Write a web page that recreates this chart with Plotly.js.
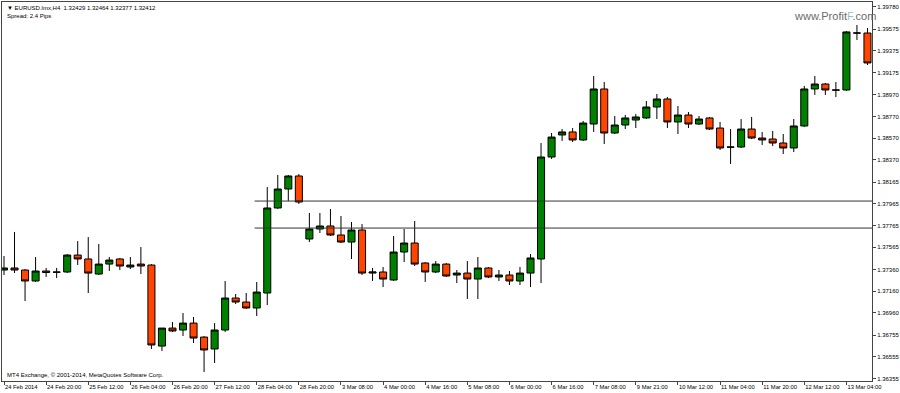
<!DOCTYPE html>
<html>
<head>
<meta charset="utf-8">
<script src="https://cdn.plot.ly/plotly-3.0.1.min.js"></script>
<style>
  html, body { margin: 0; padding: 0; background: #ffffff; }
  #chart { width: 900px; height: 393px; }
</style>
</head>
<body>
<div id="chart"></div>
<script>
// ---- Data (EURUSD H4) ----
const openP = [1.37355, 1.37374, 1.37355, 1.37254, 1.37346, 1.37337, 1.37337, 1.37493, 1.37457, 1.37318,
  1.37410, 1.37457, 1.37383, 1.37410, 1.37401, 1.36654, 1.36820, 1.36802, 1.36866, 1.36737,
  1.36627, 1.36802, 1.37097, 1.37060, 1.37005, 1.37143, 1.37927, 1.38102, 1.38222, 1.37641,
  1.37733, 1.37761, 1.37678, 1.37613, 1.37724, 1.37327, 1.37337, 1.37263, 1.37521, 1.37604,
  1.37420, 1.37337, 1.37410, 1.37309, 1.37327, 1.37272, 1.37374, 1.37291, 1.37309, 1.37254,
  1.37327, 1.37457, 1.38397, 1.38600, 1.38628, 1.38554, 1.38701, 1.39024, 1.38618, 1.38692,
  1.38738, 1.38757, 1.38858, 1.38932, 1.38720, 1.38784, 1.38701, 1.38757, 1.38664, 1.38489,
  1.38489, 1.38655, 1.38572, 1.38563, 1.38526, 1.38480, 1.38683, 1.39024, 1.39070, 1.39015,
  1.39015, 1.39540, 1.39540];

const highP = [1.37484, 1.37706, 1.37364, 1.37475, 1.37374, 1.37374, 1.37503, 1.37622, 1.37659, 1.37595,
  1.37475, 1.37466, 1.37475, 1.37567, 1.37410, 1.36820, 1.36876, 1.36959, 1.36922, 1.36747,
  1.36866, 1.37254, 1.37134, 1.37143, 1.37245, 1.38120, 1.38231, 1.38231, 1.38240, 1.37881,
  1.37881, 1.37918, 1.37853, 1.37798, 1.37779, 1.37374, 1.37383, 1.37669, 1.37733, 1.37807,
  1.37429, 1.37438, 1.37420, 1.37355, 1.37438, 1.37475, 1.37383, 1.37355, 1.37346, 1.37383,
  1.37503, 1.38526, 1.38618, 1.38655, 1.38664, 1.38729, 1.39144, 1.39089, 1.38775, 1.38784,
  1.38793, 1.38913, 1.38978, 1.38950, 1.38867, 1.38812, 1.38775, 1.38766, 1.38720, 1.38655,
  1.38747, 1.38766, 1.38628, 1.38637, 1.38609, 1.38747, 1.39052, 1.39144, 1.39079, 1.39089,
  1.39559, 1.39614, 1.39586];

const lowP = [1.37309, 1.37327, 1.37069, 1.37245, 1.37291, 1.37281, 1.37327, 1.37401, 1.37143, 1.37309,
  1.37346, 1.37355, 1.37364, 1.37318, 1.36627, 1.36608, 1.36784, 1.36747, 1.36682, 1.36415,
  1.36498, 1.36784, 1.37042, 1.36996, 1.36931, 1.37032, 1.37918, 1.37991, 1.37964, 1.37613,
  1.37696, 1.37669, 1.37604, 1.37457, 1.37309, 1.37254, 1.37198, 1.37254, 1.37429, 1.37392,
  1.37245, 1.37327, 1.37291, 1.37235, 1.37088, 1.37088, 1.37281, 1.37254, 1.37217, 1.37217,
  1.37198, 1.37235, 1.38379, 1.38545, 1.38535, 1.38545, 1.38628, 1.38517, 1.38609, 1.38655,
  1.38664, 1.38747, 1.38747, 1.38664, 1.38609, 1.38664, 1.38692, 1.38646, 1.38462, 1.38332,
  1.38480, 1.38563, 1.38508, 1.38498, 1.38425, 1.38443, 1.38674, 1.38969, 1.38969, 1.38950,
  1.39006, 1.39476, 1.39245];

const closeP = [1.37374, 1.37355, 1.37254, 1.37346, 1.37332, 1.37335, 1.37493, 1.37457, 1.37327, 1.37410,
  1.37447, 1.37392, 1.37401, 1.37392, 1.36664, 1.36820, 1.36793, 1.36866, 1.36728, 1.36618,
  1.36802, 1.37097, 1.37060, 1.37005, 1.37152, 1.37927, 1.38102, 1.38222, 1.37982, 1.37733,
  1.37761, 1.37678, 1.37613, 1.37724, 1.37327, 1.37337, 1.37272, 1.37521, 1.37604, 1.37410,
  1.37337, 1.37410, 1.37300, 1.37327, 1.37272, 1.37374, 1.37291, 1.37309, 1.37254, 1.37327,
  1.37466, 1.38397, 1.38581, 1.38628, 1.38554, 1.38710, 1.39024, 1.38618, 1.38692, 1.38757,
  1.38766, 1.38858, 1.38932, 1.38720, 1.38784, 1.38701, 1.38747, 1.38655, 1.38480, 1.38488,
  1.38655, 1.38572, 1.38554, 1.38526, 1.38480, 1.38683, 1.39024, 1.39070, 1.39015, 1.39014,
  1.39550, 1.39540, 1.39264];

// time labels shown on the axis (one every 4 bars)
const timeLabels = ["24 Feb 2014", "24 Feb 20:00", "25 Feb 12:00", "26 Feb 04:00", "26 Feb 20:00",
  "27 Feb 12:00", "28 Feb 04:00", "28 Feb 20:00", "3 Mar 08:00", "4 Mar 00:00", "4 Mar 16:00",
  "5 Mar 08:00", "6 Mar 00:00", "6 Mar 16:00", "7 Mar 08:00", "9 Mar 21:00", "10 Mar 12:00",
  "11 Mar 04:00", "11 Mar 20:00", "12 Mar 12:00", "13 Mar 04:00"];
const labelEvery = 4;

// price scale labels
const priceTicks = [1.39780, 1.39575, 1.39375, 1.39175, 1.38970, 1.38770, 1.38570, 1.38370, 1.38165,
  1.37965, 1.37765, 1.37565, 1.37360, 1.37160, 1.36960, 1.36755, 1.36555, 1.36355];

// horizontal levels drawn on the chart, starting from this bar
const levels = [1.37991, 1.37742];
const levelStartBar = 24;

// ---- Build ----
const xIdx = openP.map((_, i) => i);
const tickVals = timeLabels.map((_, i) => i * labelEvery);

const trace = {
  type: 'candlestick',
  x: xIdx,
  open: openP, high: highP, low: lowP, close: closeP,
  increasing: { line: { color: '#000000', width: 1 }, fillcolor: '#008000' },
  decreasing: { line: { color: '#000000', width: 1 }, fillcolor: '#FF4500' },
  whiskerwidth: 0,
  hoverinfo: 'skip',
  showlegend: false
};

const shapes = levels.map(v => ({
  type: 'line', xref: 'x', yref: 'y',
  x0: levelStartBar - 0.2, x1: xIdx.length + 2, y0: v, y1: v,
  line: { color: '#333333', width: 1 }
}));

const fontFam = 'Liberation Sans, Arial, sans-serif';

const layout = {
  width: 900, height: 393,
  margin: { l: 2, r: 28, t: 2, b: 12, pad: 0 },
  paper_bgcolor: '#ffffff',
  plot_bgcolor: '#ffffff',
  showlegend: false,
  boxgap: 0.33, boxgroupgap: 0,
  xaxis: {
    range: [-0.19, 82.43],
    tickmode: 'array', tickvals: tickVals, ticktext: timeLabels,
    tickangle: 0,
    ticks: 'outside', ticklen: 3, tickcolor: '#444444',
    ticklabelposition: 'outside right',
    tickfont: { family: fontFam, size: 5.8, color: '#000000' },
    showgrid: false, zeroline: false,
    showline: true, linecolor: '#444444', linewidth: 1, mirror: true,
    rangeslider: { visible: false },
    fixedrange: true
  },
  yaxis: {
    side: 'right',
    range: [1.36332, 1.39826],
    tickmode: 'array', tickvals: priceTicks,
    tickformat: '.5f',
    ticks: 'outside', ticklen: 3, tickcolor: '#444444',
    tickfont: { family: fontFam, size: 6, color: '#000000' },
    showgrid: false, zeroline: false,
    showline: true, linecolor: '#444444', linewidth: 1, mirror: true,
    fixedrange: true
  },
  shapes: shapes,
  annotations: [
    { xref: 'paper', yref: 'paper', x: 0, y: 1, xanchor: 'left', yanchor: 'top',
      xshift: 3, yshift: -1, showarrow: false, align: 'left',
      text: '▼ EURUSD.lmx,H4  1.32429 1.32464 1.32377 1.32412',
      font: { family: fontFam, size: 6, color: '#000000' } },
    { xref: 'paper', yref: 'paper', x: 0, y: 1, xanchor: 'left', yanchor: 'top',
      xshift: 3, yshift: -9, showarrow: false, align: 'left',
      text: 'Spread: 2.4 Pips',
      font: { family: fontFam, size: 6, color: '#000000' } },
    { xref: 'paper', yref: 'paper', x: 0, y: 0, xanchor: 'left', yanchor: 'bottom',
      xshift: 3, yshift: 1, showarrow: false, align: 'left',
      text: 'MT4 Exchange, © 2001-2014, MetaQuotes Software Corp.',
      font: { family: fontFam, size: 6, color: '#000000' } },
    { xref: 'paper', yref: 'paper', x: 1, y: 1, xanchor: 'right', yanchor: 'top',
      xshift: 6, yshift: -6, showarrow: false, align: 'right',
      text: 'www.Profit<span style="color:#9fb8c8">F</span>.com',
      font: { family: fontFam, size: 11, color: '#6b6b6b' } }
  ]
};

Plotly.newPlot('chart', [trace], layout, { displayModeBar: false, staticPlot: true });
</script>
</body>
</html>
